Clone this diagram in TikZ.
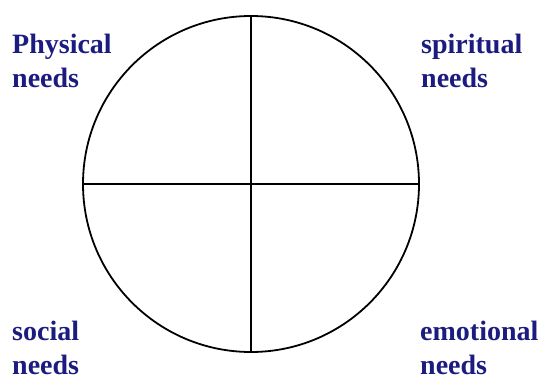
\documentclass[tikz,border=0pt]{standalone}
\usepackage{fontspec}
\setmainfont{Liberation Serif}
\definecolor{navy}{HTML}{1C1C80}
\begin{document}
\begin{tikzpicture}[x=1pt,y=-1pt,
  lbl/.style={anchor=base west,inner sep=0pt,text=navy,font=\fontsize{28}{34}\selectfont\bfseries,align=left},
  ln/.style={line width=1.8pt,black}]
\useasboundingbox (0,0) rectangle (551,380);
\node[ln,draw,circle,minimum size=336pt,inner sep=0pt] (c) at (251,184) {};
\draw[ln] (c.north) -- (c.south);
\draw[ln] (c.west) -- (c.east);
\node[lbl] (p) at (12,87) {Physical\\needs};
\node[lbl] (s) at (421,87) {spiritual\\needs};
\node[lbl] (o) at (12,374) {social\\needs};
\node[lbl] (e) at (420,374) {emotional\\needs};
\end{tikzpicture}
\end{document}
